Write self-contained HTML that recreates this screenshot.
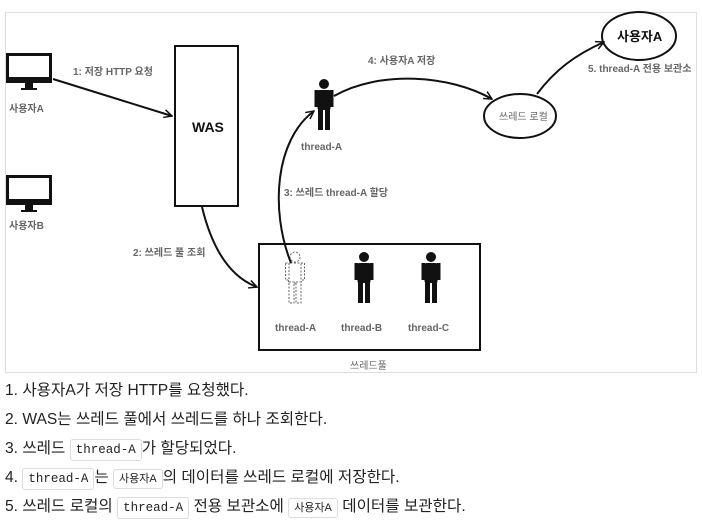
<!DOCTYPE html>
<html><head><meta charset="utf-8"><style>
body{margin:0;width:702px;height:527px;background:#fff;overflow:hidden;font-family:"Liberation Sans","Noto Sans CJK KR",sans-serif;}
svg{position:absolute;left:0;top:0}
.l{position:absolute;left:5px;font-size:15.6px;color:#222;white-space:nowrap;line-height:20px}
code{font-family:"Liberation Mono","Noto Sans CJK KR",monospace;font-size:12.5px;border:1px solid #ddd;border-radius:3px;padding:3px 5px;background:#fff}
.k{font-family:"Liberation Sans","Noto Sans CJK KR",sans-serif;font-size:11px}
</style></head><body>
<svg width="702" height="527" viewBox="0 0 702 527" font-family="Liberation Sans, Noto Sans CJK KR, sans-serif">
<defs>
<marker id="a" markerWidth="10" markerHeight="10" refX="9" refY="5" orient="auto" markerUnits="userSpaceOnUse"><path d="M1,1 L9,5 L1,9" fill="none" stroke="#111" stroke-width="1.5"/></marker>
<g id="man"><circle cx="0" cy="-20" r="5"/><rect x="-6.5" y="-14" width="13" height="20" rx="2"/><rect x="-9.5" y="-14" width="3.5" height="17"/><rect x="6" y="-14" width="3.5" height="17"/><rect x="-6" y="5" width="5" height="21"/><rect x="1" y="5" width="5" height="21"/></g>
</defs>
<rect x="5.5" y="12.5" width="691" height="360" fill="#fff" stroke="#ddd"/>
<g fill="#111"><rect x="6" y="53" width="46" height="30"/><rect x="25" y="83" width="8" height="5"/><rect x="21" y="88" width="16" height="2"/>
<rect x="6" y="175" width="46" height="30"/><rect x="25" y="205" width="8" height="5"/><rect x="21" y="210" width="16" height="2"/></g>
<rect x="9" y="56" width="40" height="21" fill="#fff"/><rect x="9" y="178" width="40" height="21" fill="#fff"/>
<rect x="175" y="46" width="63" height="160" fill="#fff" stroke="#111" stroke-width="2"/>
<text x="192" y="132" font-size="14" font-weight="bold" fill="#111">WAS</text>
<rect x="259" y="244" width="221" height="106" fill="none" stroke="#111" stroke-width="2"/>
<ellipse cx="520" cy="116" rx="36" ry="22" fill="#fff" stroke="#111" stroke-width="2"/>
<ellipse cx="639" cy="36" rx="37" ry="24" fill="#fff" stroke="#111" stroke-width="2"/>
<text x="617" y="41" font-size="13" font-weight="bold" fill="#111">사용자A</text>
<g font-size="10" fill="#666" font-weight="bold">
<text x="9" y="112">사용자A</text><text x="9" y="229">사용자B</text>
<text x="73" y="75">1: 저장 HTTP 요청</text>
<text x="368" y="64">4: 사용자A 저장</text>
<text x="588" y="72">5. thread-A 전용 보관소</text>
<text x="301" y="150">thread-A</text>
<text x="284" y="196">3: 쓰레드 thread-A 할당</text>
<text x="133" y="256">2: 쓰레드 풀 조회</text>
<text x="275" y="331">thread-A</text><text x="341" y="331">thread-B</text><text x="408" y="331">thread-C</text>
<text x="350" y="369" font-weight="normal">쓰레드풀</text>
<text x="499" y="120" font-weight="normal">쓰레드 로컬</text>
</g>
<g fill="#111"><use href="#man" x="324" y="104"/><use href="#man" x="364" y="277"/><use href="#man" x="431" y="277"/></g>
<use href="#man" x="295" y="277" fill="#fff" stroke="#666" stroke-width="1" stroke-dasharray="2,1.5"/>
<g fill="none" stroke="#111" stroke-width="2">
<path d="M53,79 L172,116" marker-end="url(#a)"/>
<path d="M202,207 C210,240 225,275 257,287" marker-end="url(#a)"/>
<path d="M291,263 C270,210 275,140 314,111" marker-end="url(#a)"/>
<path d="M334,96 C380,70 450,75 492,99" marker-end="url(#a)"/>
<path d="M537,94 C555,70 575,55 604,42" marker-end="url(#a)"/>
</g>
</svg>
<div class="l" style="top:381px">1. 사용자A가 저장 HTTP를 요청했다.</div>
<div class="l" style="top:410px">2. WAS는 쓰레드 풀에서 쓰레드를 하나 조회한다.</div>
<div class="l" style="top:439px">3. 쓰레드 <code>thread-A</code>가 할당되었다.</div>
<div class="l" style="top:468px">4. <code>thread-A</code>는 <code class="k">사용자A</code>의 데이터를 쓰레드 로컬에 저장한다.</div>
<div class="l" style="top:497px">5. 쓰레드 로컬의 <code>thread-A</code> 전용 보관소에 <code class="k">사용자A</code> 데이터를 보관한다.</div>
</body></html>
